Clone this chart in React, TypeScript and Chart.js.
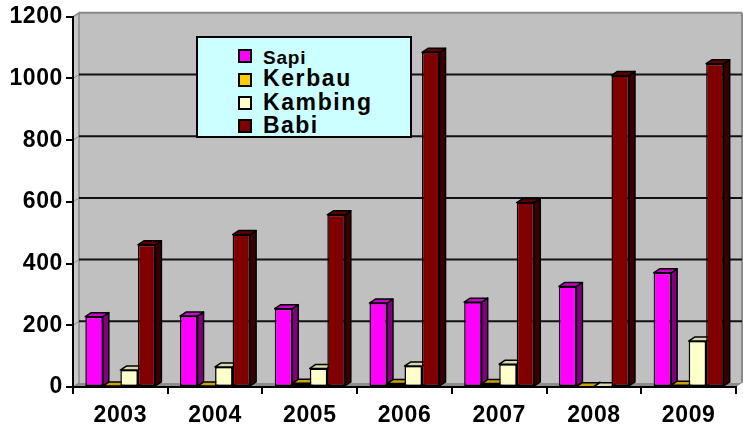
import React, { useEffect, useRef } from 'react';
import { Chart, registerables } from 'chart.js';

Chart.register(...registerables);

const years = ['2003', '2004', '2005', '2006', '2007', '2008', '2009'];
const sapi = [228, 230, 254, 272, 275, 326, 370];
const kerbau = [3, 3, 12, 11, 11, 1, 6];
const kambing = [55, 65, 60, 68, 74, 1, 149];
const babi = [461, 494, 558, 1085, 598, 1010, 1048];
const seriesNames = ['Sapi', 'Kerbau', 'Kambing', 'Babi'];
const yTicks = [0, 200, 400, 600, 800, 1000, 1200];

const FRONT = ['#FF00FF', '#FFCC00', '#FFFFCC', '#800000'];
const SIDE = ['#800080', '#997A00', '#B3B38F', '#3A0000'];
const TOP = ['#CC00CC', '#CCA300', '#D9D9AD', '#5C0000'];

const FONT = '"Liberation Sans", Arial, sans-serif';

const DX = 6; // bar depth x
const DY = 4; // bar depth y
const WX = 6; // wall depth x
const WY = 4; // wall depth y

const threeD = {
  id: 'threeD',
  beforeDraw(chart: any) {
    const { ctx, chartArea: a, scales } = chart;
    const ys = scales.y;
    ctx.save();
    ctx.fillStyle = '#C0C0C0';
    ctx.fillRect(a.left + WX, a.top - WY, a.right - a.left, a.bottom - a.top);
    ctx.beginPath();
    ctx.moveTo(a.left, a.top);
    ctx.lineTo(a.left + WX, a.top - WY);
    ctx.lineTo(a.left + WX, a.bottom - WY);
    ctx.lineTo(a.left, a.bottom);
    ctx.closePath();
    ctx.fillStyle = '#C8C8C8';
    ctx.fill();
    ctx.strokeStyle = '#8A8A8A';
    ctx.lineWidth = 1.5;
    ctx.stroke();
    ctx.beginPath();
    ctx.moveTo(a.left, a.bottom);
    ctx.lineTo(a.left + WX, a.bottom - WY);
    ctx.lineTo(a.right + WX, a.bottom - WY);
    ctx.lineTo(a.right, a.bottom);
    ctx.closePath();
    ctx.fillStyle = '#8C8C8C';
    ctx.fill();
    ctx.strokeStyle = '#8A8A8A';
    ctx.lineWidth = 2;
    ctx.beginPath();
    ctx.moveTo(a.right + WX, a.top - WY);
    ctx.lineTo(a.right + WX, a.bottom - WY);
    ctx.stroke();
    yTicks.forEach((v, i) => {
      if (v === 0) return;
      const py = ys.getPixelForValue(v) - WY;
      const last = i === yTicks.length - 1;
      ctx.strokeStyle = last ? '#8A8A8A' : '#111111';
      ctx.lineWidth = 2;
      ctx.beginPath();
      ctx.moveTo(a.left + WX, py);
      ctx.lineTo(a.right + WX, py);
      ctx.stroke();
      ctx.beginPath();
      ctx.strokeStyle = '#8A8A8A';
      ctx.lineWidth = 1;
      ctx.moveTo(a.left, py + WY);
      ctx.lineTo(a.left + WX, py);
      ctx.stroke();
    });
    ctx.restore();
    ctx.letterSpacing = '0.6px';
  },
  beforeDatasetsDraw(chart: any) {
    const { ctx } = chart;
    ctx.save();
    ctx.lineWidth = 1.5;
    ctx.strokeStyle = '#000';
    ctx.lineJoin = 'round';
    const metas = chart.data.datasets.map((_: any, i: number) => chart.getDatasetMeta(i));
    metas.forEach((meta: any, di: number) => {
      meta.data.forEach((el: any) => {
        const { x, y, base, width } = el.getProps(['x', 'y', 'base', 'width'], true);
        const r = x + width / 2;
        ctx.beginPath();
        ctx.moveTo(r, y);
        ctx.lineTo(r + DX, y - DY);
        ctx.lineTo(r + DX, base - DY);
        ctx.lineTo(r, base);
        ctx.closePath();
        ctx.fillStyle = SIDE[di];
        ctx.fill();
        ctx.stroke();
      });
    });
    metas.forEach((meta: any, di: number) => {
      meta.data.forEach((el: any) => {
        const { x, y, width } = el.getProps(['x', 'y', 'width'], true);
        const l = x - width / 2;
        const r = x + width / 2;
        ctx.beginPath();
        ctx.moveTo(l, y);
        ctx.lineTo(l + DX, y - DY);
        ctx.lineTo(r + DX, y - DY);
        ctx.lineTo(r, y);
        ctx.closePath();
        ctx.fillStyle = TOP[di];
        ctx.fill();
        ctx.stroke();
      });
    });
    ctx.restore();
  },
};

const seriesData = [sapi, kerbau, kambing, babi];

export default function App() {
  const ref = useRef<HTMLCanvasElement>(null);

  useEffect(() => {
    document.body.style.margin = '0';
    const canvas = ref.current;
    if (!canvas) return;
    const tickFont = { family: FONT, size: 23, weight: 'bold' as const };
    const chart = new Chart(canvas, {
      type: 'bar',
      data: {
        labels: years,
        datasets: seriesNames.map((name, i) => ({
          label: name,
          data: seriesData[i],
          backgroundColor: FRONT[i],
          borderColor: '#000',
          borderWidth: 1.5,
          borderSkipped: false,
          barPercentage: 1,
          categoryPercentage: 0.74,
        })),
      },
      options: {
        responsive: false,
        animation: false,
        devicePixelRatio: 1,
        layout: { padding: { top: 15, right: 7, left: 0, bottom: 0 } },
        plugins: { legend: { display: false }, tooltip: { enabled: false } },
        scales: {
          x: {
            grid: {
              display: true,
              drawOnChartArea: false,
              drawTicks: true,
              tickLength: 7,
              tickColor: '#000',
              lineWidth: 2,
              offset: true,
            },
            border: { display: true, color: '#000', width: 2 },
            ticks: { color: '#000', font: tickFont, padding: 8, maxRotation: 0 },
            afterFit: (s: any) => {
              s.height = 41;
            },
          },
          y: {
            min: 0,
            max: 1200,
            afterBuildTicks: (s: any) => {
              s.ticks = yTicks.map((v) => ({ value: v }));
            },
            grid: {
              display: true,
              drawOnChartArea: false,
              drawTicks: true,
              tickLength: 7,
              tickColor: '#000',
              lineWidth: 2,
            },
            border: { display: true, color: '#000', width: 2 },
            ticks: {
              color: '#000',
              font: tickFont,
              padding: 3,
              callback: (v: any) => String(v),
            },
            afterFit: (s: any) => {
              s.width = 73;
            },
          },
        },
      },
      plugins: [threeD],
    });
    return () => chart.destroy();
  }, []);

  const sq = (top: number, color: string): React.CSSProperties => ({
    position: 'absolute',
    left: 238,
    top,
    width: 14,
    height: 14,
    boxSizing: 'border-box',
    border: '2px solid #000',
    background: color,
  });
  const txt = (top: number, size: number, spacing: number): React.CSSProperties => ({
    position: 'absolute',
    left: 263,
    top,
    fontFamily: FONT,
    fontWeight: 'bold',
    fontSize: size,
    lineHeight: `${size}px`,
    letterSpacing: spacing,
    color: '#000',
    whiteSpace: 'nowrap',
  });
  const rows = [
    { sqTop: 49, txtTop: 48, size: 19, sp: 0.8 },
    { sqTop: 73, txtTop: 67, size: 23, sp: 1.6 },
    { sqTop: 96, txtTop: 90.5, size: 23, sp: 1.6 },
    { sqTop: 119, txtTop: 113.5, size: 23, sp: 1.4 },
  ];

  return (
    <div style={{ position: 'relative', width: 743, height: 428, background: '#fff' }}>
      <canvas ref={ref} width={743} height={428} style={{ display: 'block' }} />
      <div
        style={{
          position: 'absolute',
          left: 196,
          top: 36,
          width: 216,
          height: 102,
          boxSizing: 'border-box',
          border: '2px solid #000',
          background: '#CCFFFF',
        }}
      />
      {seriesNames.map((name, i) => (
        <React.Fragment key={name}>
          <div style={sq(rows[i].sqTop, FRONT[i])} />
          <div style={txt(rows[i].txtTop, rows[i].size, rows[i].sp)}>{name}</div>
        </React.Fragment>
      ))}
    </div>
  );
}
